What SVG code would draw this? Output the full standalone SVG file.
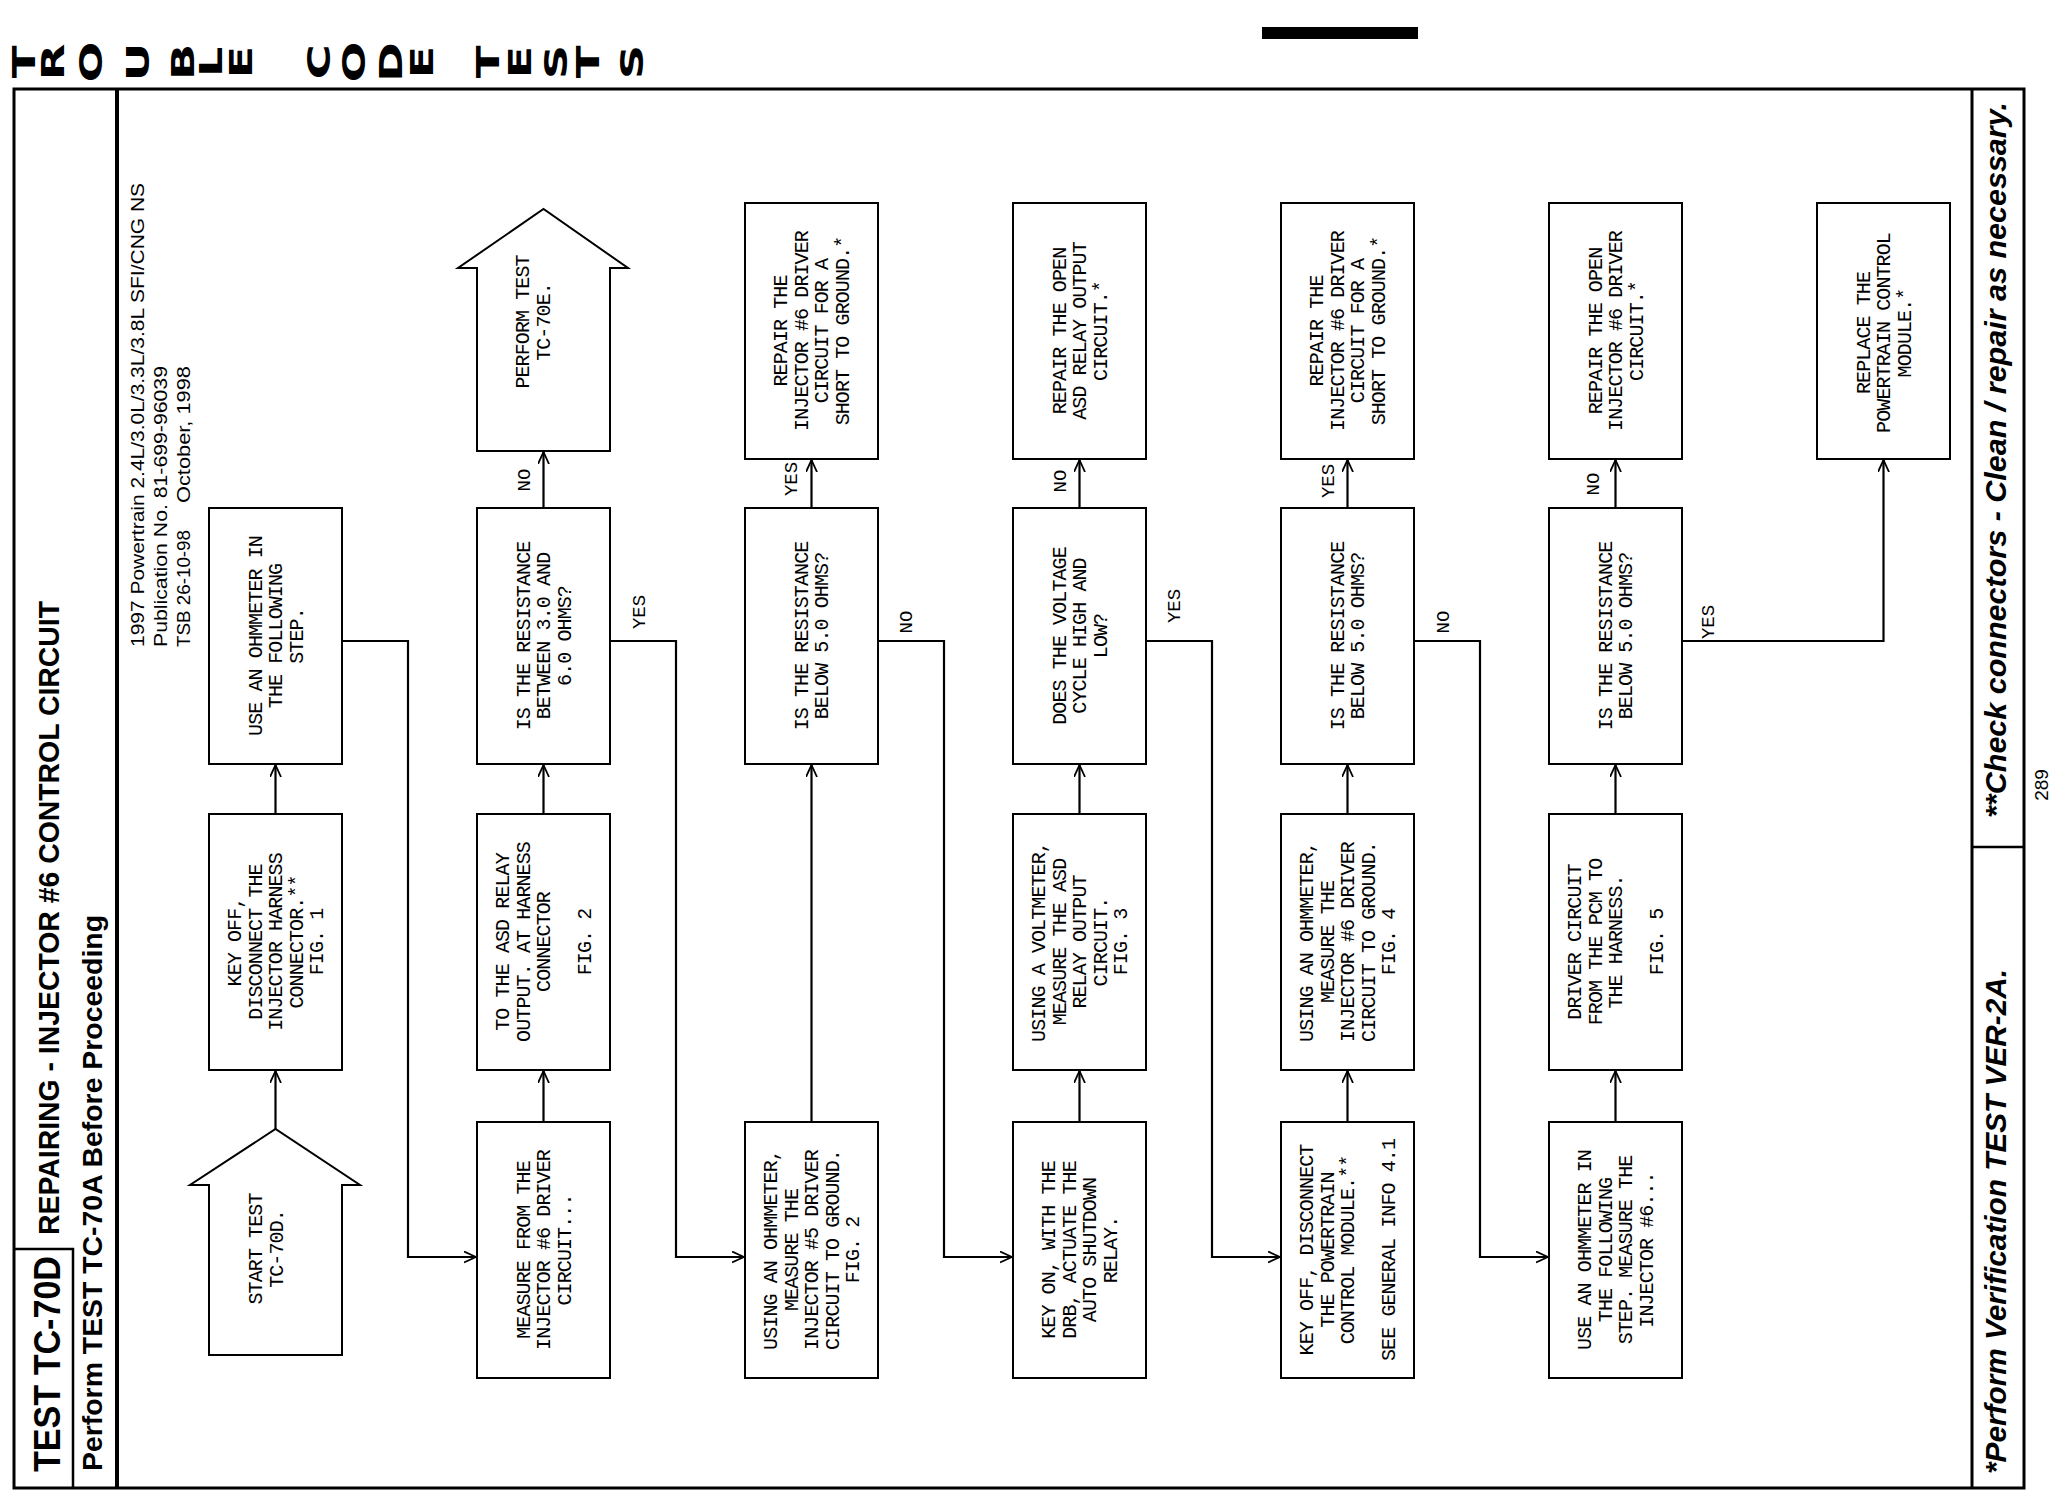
<svg xmlns="http://www.w3.org/2000/svg" width="2050" height="1504" viewBox="0 0 2050 1504">
<style>
.bx{fill:#fff;stroke:#000;stroke-width:2}
.t{font-family:"Liberation Mono","DejaVu Sans Mono",monospace;font-size:20px;letter-spacing:-0.9px;text-anchor:middle;fill:#000}
.lb{font-family:"Liberation Mono","DejaVu Sans Mono",monospace;font-size:19px;text-anchor:middle;fill:#000}
.c{fill:none;stroke:#000;stroke-width:2.2}
.fr{fill:none;stroke:#000;stroke-width:3}
.hd{font-family:"DejaVu Sans","Liberation Sans",sans-serif;font-weight:bold;font-size:32px;text-anchor:middle;fill:#000}
.ti{font-family:"Liberation Sans","Arial",sans-serif;font-weight:bold;fill:#000}
.pub{font-family:"Liberation Sans","Arial",sans-serif;font-size:19px;fill:#000}
</style>
<defs>
<marker id="ar" markerUnits="userSpaceOnUse" markerWidth="14" markerHeight="14" refX="12" refY="6" orient="auto">
<path d="M0,0.5 L12,6 L0,11.5" fill="none" stroke="#000" stroke-width="1.8"/>
</marker>
</defs>
<rect width="2050" height="1504" fill="#fff"/>

<g id="header">
<text class="hd" transform="translate(23,62) rotate(-90) scale(1.5,1)" y="11.7">T</text>
<text class="hd" transform="translate(52,62) rotate(-90) scale(1.5,1)" y="11.7">R</text>
<text class="hd" transform="translate(90,62) rotate(-90) scale(1.5,1)" y="11.7">O</text>
<text class="hd" transform="translate(137,62) rotate(-90) scale(1.5,1)" y="11.7">U</text>
<text class="hd" transform="translate(182,62) rotate(-90) scale(1.5,1)" y="11.7">B</text>
<text class="hd" transform="translate(210,62) rotate(-90) scale(1.5,1)" y="11.7">L</text>
<text class="hd" transform="translate(240,62) rotate(-90) scale(1.5,1)" y="11.7">E</text>
<text class="hd" transform="translate(318,62) rotate(-90) scale(1.5,1)" y="11.7">C</text>
<text class="hd" transform="translate(353,62) rotate(-90) scale(1.5,1)" y="11.7">O</text>
<text class="hd" transform="translate(390,62) rotate(-90) scale(1.5,1)" y="11.7">D</text>
<text class="hd" transform="translate(421,62) rotate(-90) scale(1.5,1)" y="11.7">E</text>
<text class="hd" transform="translate(487,62) rotate(-90) scale(1.5,1)" y="11.7">T</text>
<text class="hd" transform="translate(519,62) rotate(-90) scale(1.5,1)" y="11.7">E</text>
<text class="hd" transform="translate(555,62) rotate(-90) scale(1.5,1)" y="11.7">S</text>
<text class="hd" transform="translate(587,62) rotate(-90) scale(1.5,1)" y="11.7">T</text>
<text class="hd" transform="translate(631,62) rotate(-90) scale(1.5,1)" y="11.7">S</text>
<rect x="1262" y="27" width="156" height="12" fill="#000"/>
</g>

<g id="frame">
<rect class="fr" x="14" y="89" width="2010" height="1399"/>
<line x1="117" y1="89" x2="117" y2="1488" stroke="#000" stroke-width="4"/>
<polyline points="14,1249 73,1249 73,1488" fill="none" stroke="#000" stroke-width="2.5"/>
<line x1="1972" y1="89" x2="1972" y2="1488" stroke="#000" stroke-width="3"/>
<line x1="1972" y1="847" x2="2024" y2="847" stroke="#000" stroke-width="2.5"/>
</g>

<g id="titles">
<text class="ti" font-size="37" transform="translate(59.5,1472) rotate(-90)" textLength="216" lengthAdjust="spacingAndGlyphs">TEST TC-70D</text>
<text class="ti" font-size="30" transform="translate(59,1235) rotate(-90)" textLength="634" lengthAdjust="spacingAndGlyphs">REPAIRING - INJECTOR #6 CONTROL CIRCUIT</text>
<text class="ti" font-size="28" transform="translate(102,1471) rotate(-90)" textLength="556" lengthAdjust="spacingAndGlyphs">Perform TEST TC-70A Before Proceeding</text>
<text class="pub" transform="translate(144,647) rotate(-90)" textLength="464" lengthAdjust="spacingAndGlyphs">1997 Powertrain 2.4L/3.0L/3.3L/3.8L SFI/CNG NS</text>
<text class="pub" transform="translate(167,647) rotate(-90)" textLength="281" lengthAdjust="spacingAndGlyphs">Publication No. 81-699-96039</text>
<text class="pub" transform="translate(190,647) rotate(-90)" textLength="117" lengthAdjust="spacingAndGlyphs">TSB 26-10-98</text>
<text class="pub" transform="translate(190,503) rotate(-90)" textLength="137" lengthAdjust="spacingAndGlyphs">October, 1998</text>
<text class="ti" font-size="30" font-style="italic" transform="translate(2006,1474) rotate(-90)" textLength="505" lengthAdjust="spacingAndGlyphs">*Perform Verification TEST VER-2A.</text>
<text class="ti" font-size="30" font-style="italic" transform="translate(2006,818) rotate(-90)" textLength="716" lengthAdjust="spacingAndGlyphs">**Check connectors - Clean / repair as necessary.</text>
<text class="pub" font-size="22" transform="translate(2048,785) rotate(-90)" text-anchor="middle">289</text>
</g>

<g id="connectors">
<line class="c" x1="275.5" y1="1129" x2="275.5" y2="1071" marker-end="url(#ar)"/>
<line class="c" x1="275.5" y1="814" x2="275.5" y2="765" marker-end="url(#ar)"/>
<path class="c" d="M342,641 H408 V1257 H476" marker-end="url(#ar)"/>
<line class="c" x1="543.5" y1="1122" x2="543.5" y2="1071" marker-end="url(#ar)"/>
<line class="c" x1="543.5" y1="814" x2="543.5" y2="765" marker-end="url(#ar)"/>
<line class="c" x1="543.5" y1="508" x2="543.5" y2="452" marker-end="url(#ar)"/>
<path class="c" d="M610,641 H676 V1257 H744" marker-end="url(#ar)"/>
<line class="c" x1="811.5" y1="1122" x2="811.5" y2="765" marker-end="url(#ar)"/>
<line class="c" x1="811.5" y1="508" x2="811.5" y2="460" marker-end="url(#ar)"/>
<path class="c" d="M878,641 H944 V1257 H1012" marker-end="url(#ar)"/>
<line class="c" x1="1079.5" y1="1122" x2="1079.5" y2="1071" marker-end="url(#ar)"/>
<line class="c" x1="1079.5" y1="814" x2="1079.5" y2="765" marker-end="url(#ar)"/>
<line class="c" x1="1079.5" y1="508" x2="1079.5" y2="460" marker-end="url(#ar)"/>
<path class="c" d="M1146,641 H1212 V1257 H1280" marker-end="url(#ar)"/>
<line class="c" x1="1347.5" y1="1122" x2="1347.5" y2="1071" marker-end="url(#ar)"/>
<line class="c" x1="1347.5" y1="814" x2="1347.5" y2="765" marker-end="url(#ar)"/>
<line class="c" x1="1347.5" y1="508" x2="1347.5" y2="460" marker-end="url(#ar)"/>
<path class="c" d="M1414,641 H1480 V1257 H1548" marker-end="url(#ar)"/>
<line class="c" x1="1615.5" y1="1122" x2="1615.5" y2="1071" marker-end="url(#ar)"/>
<line class="c" x1="1615.5" y1="814" x2="1615.5" y2="765" marker-end="url(#ar)"/>
<line class="c" x1="1615.5" y1="508" x2="1615.5" y2="460" marker-end="url(#ar)"/>
<path class="c" d="M1682,641 H1883.5 V460" marker-end="url(#ar)"/>
<text class="lb" transform="translate(523,480) rotate(-90)" y="6.5">NO</text>
<text class="lb" transform="translate(638,612) rotate(-90)" y="6.5">YES</text>
<text class="lb" transform="translate(790,479) rotate(-90)" y="6.5">YES</text>
<text class="lb" transform="translate(905,622) rotate(-90)" y="6.5">NO</text>
<text class="lb" transform="translate(1059,481) rotate(-90)" y="6.5">NO</text>
<text class="lb" transform="translate(1173,606) rotate(-90)" y="6.5">YES</text>
<text class="lb" transform="translate(1327,481) rotate(-90)" y="6.5">YES</text>
<text class="lb" transform="translate(1442,622) rotate(-90)" y="6.5">NO</text>
<text class="lb" transform="translate(1592,484) rotate(-90)" y="6.5">NO</text>
<text class="lb" transform="translate(1707,622) rotate(-90)" y="6.5">YES</text>
</g>

<g id="n_start">
<polygon class="bx" points="209,1355 209,1185 190,1185 275.5,1129 360,1185 342,1185 342,1355"/>
<text class="t" transform="translate(266,1249) rotate(-90)"><tspan x="0" y="-3.75">START TEST</tspan><tspan x="0" y="16.75">TC-70D.</tspan></text>
</g>
<g id="n_keyoff1">
<rect class="bx" x="209" y="814" width="133" height="256"/>
<text class="t" transform="translate(275.5,942) rotate(-90)"><tspan x="0" y="-34.5">KEY OFF,</tspan><tspan x="0" y="-14">DISCONNECT THE</tspan><tspan x="0" y="6.5">INJECTOR HARNESS</tspan><tspan x="0" y="27">CONNECTOR.**</tspan><tspan x="0" y="47.5">FIG. 1</tspan></text>
</g>
<g id="n_use1">
<rect class="bx" x="209" y="508" width="133" height="256"/>
<text class="t" transform="translate(275.5,636) rotate(-90)"><tspan x="0" y="-14">USE AN OHMMETER IN</tspan><tspan x="0" y="6.5">THE FOLLOWING</tspan><tspan x="0" y="27">STEP.</tspan></text>
</g>
<g id="n_meas2">
<rect class="bx" x="477" y="1122" width="133" height="256"/>
<text class="t" transform="translate(543.5,1250) rotate(-90)"><tspan x="0" y="-14">MEASURE FROM THE</tspan><tspan x="0" y="6.5">INJECTOR #6 DRIVER</tspan><tspan x="0" y="27">CIRCUIT...</tspan></text>
</g>
<g id="n_to2">
<rect class="bx" x="477" y="814" width="133" height="256"/>
<text class="t" transform="translate(543.5,942) rotate(-90)"><tspan x="0" y="-34.5">TO THE ASD RELAY</tspan><tspan x="0" y="-14">OUTPUT. AT HARNESS</tspan><tspan x="0" y="6.5">CONNECTOR</tspan><tspan x="0" y="47.5">FIG. 2</tspan></text>
</g>
<g id="n_is2">
<rect class="bx" x="477" y="508" width="133" height="256"/>
<text class="t" transform="translate(543.5,636) rotate(-90)"><tspan x="0" y="-14">IS THE RESISTANCE</tspan><tspan x="0" y="6.5">BETWEEN 3.0 AND</tspan><tspan x="0" y="27">6.0 OHMS?</tspan></text>
</g>
<g id="n_perform">
<polygon class="bx" points="477,451 477,268 458,268 543.5,209 628,268 610,268 610,451"/>
<text class="t" transform="translate(533,322) rotate(-90)"><tspan x="0" y="-3.75">PERFORM TEST</tspan><tspan x="0" y="16.75">TC-70E.</tspan></text>
</g>
<g id="n_using3">
<rect class="bx" x="745" y="1122" width="133" height="256"/>
<text class="t" transform="translate(811.5,1250) rotate(-90)"><tspan x="0" y="-34.5">USING AN OHMMETER,</tspan><tspan x="0" y="-14">MEASURE THE</tspan><tspan x="0" y="6.5">INJECTOR #5 DRIVER</tspan><tspan x="0" y="27">CIRCUIT TO GROUND.</tspan><tspan x="0" y="47.5">FIG. 2</tspan></text>
</g>
<g id="n_is3">
<rect class="bx" x="745" y="508" width="133" height="256"/>
<text class="t" transform="translate(811.5,636) rotate(-90)"><tspan x="0" y="-3.75">IS THE RESISTANCE</tspan><tspan x="0" y="16.75">BELOW 5.0 OHMS?</tspan></text>
</g>
<g id="n_rep3">
<rect class="bx" x="745" y="203" width="133" height="256"/>
<text class="t" transform="translate(811.5,331) rotate(-90)"><tspan x="0" y="-24.25">REPAIR THE</tspan><tspan x="0" y="-3.75">INJECTOR #6 DRIVER</tspan><tspan x="0" y="16.75">CIRCUIT FOR A</tspan><tspan x="0" y="37.25">SHORT TO GROUND.*</tspan></text>
</g>
<g id="n_keyon4">
<rect class="bx" x="1013" y="1122" width="133" height="256"/>
<text class="t" transform="translate(1079.5,1250) rotate(-90)"><tspan x="0" y="-24.25">KEY ON, WITH THE</tspan><tspan x="0" y="-3.75">DRB, ACTUATE THE</tspan><tspan x="0" y="16.75">AUTO SHUTDOWN</tspan><tspan x="0" y="37.25">RELAY.</tspan></text>
</g>
<g id="n_volt4">
<rect class="bx" x="1013" y="814" width="133" height="256"/>
<text class="t" transform="translate(1079.5,942) rotate(-90)"><tspan x="0" y="-34.5">USING A VOLTMETER,</tspan><tspan x="0" y="-14">MEASURE THE ASD</tspan><tspan x="0" y="6.5">RELAY OUTPUT</tspan><tspan x="0" y="27">CIRCUIT.</tspan><tspan x="0" y="47.5">FIG. 3</tspan></text>
</g>
<g id="n_does4">
<rect class="bx" x="1013" y="508" width="133" height="256"/>
<text class="t" transform="translate(1079.5,636) rotate(-90)"><tspan x="0" y="-14">DOES THE VOLTAGE</tspan><tspan x="0" y="6.5">CYCLE HIGH AND</tspan><tspan x="0" y="27">LOW?</tspan></text>
</g>
<g id="n_rep4">
<rect class="bx" x="1013" y="203" width="133" height="256"/>
<text class="t" transform="translate(1079.5,331) rotate(-90)"><tspan x="0" y="-14">REPAIR THE OPEN</tspan><tspan x="0" y="6.5">ASD RELAY OUTPUT</tspan><tspan x="0" y="27">CIRCUIT.*</tspan></text>
</g>
<g id="n_keyoff5">
<rect class="bx" x="1281" y="1122" width="133" height="256"/>
<text class="t" transform="translate(1347.5,1250) rotate(-90)"><tspan x="0" y="-34.5">KEY OFF, DISCONNECT</tspan><tspan x="0" y="-14">THE POWERTRAIN</tspan><tspan x="0" y="6.5">CONTROL MODULE.**</tspan><tspan x="0" y="47.5">SEE GENERAL INFO 4.1</tspan></text>
</g>
<g id="n_using5">
<rect class="bx" x="1281" y="814" width="133" height="256"/>
<text class="t" transform="translate(1347.5,942) rotate(-90)"><tspan x="0" y="-34.5">USING AN OHMMETER,</tspan><tspan x="0" y="-14">MEASURE THE</tspan><tspan x="0" y="6.5">INJECTOR #6 DRIVER</tspan><tspan x="0" y="27">CIRCUIT TO GROUND.</tspan><tspan x="0" y="47.5">FIG. 4</tspan></text>
</g>
<g id="n_is5">
<rect class="bx" x="1281" y="508" width="133" height="256"/>
<text class="t" transform="translate(1347.5,636) rotate(-90)"><tspan x="0" y="-3.75">IS THE RESISTANCE</tspan><tspan x="0" y="16.75">BELOW 5.0 OHMS?</tspan></text>
</g>
<g id="n_rep5">
<rect class="bx" x="1281" y="203" width="133" height="256"/>
<text class="t" transform="translate(1347.5,331) rotate(-90)"><tspan x="0" y="-24.25">REPAIR THE</tspan><tspan x="0" y="-3.75">INJECTOR #6 DRIVER</tspan><tspan x="0" y="16.75">CIRCUIT FOR A</tspan><tspan x="0" y="37.25">SHORT TO GROUND.*</tspan></text>
</g>
<g id="n_use6">
<rect class="bx" x="1549" y="1122" width="133" height="256"/>
<text class="t" transform="translate(1615.5,1250) rotate(-90)"><tspan x="0" y="-24.25">USE AN OHMMETER IN</tspan><tspan x="0" y="-3.75">THE FOLLOWING</tspan><tspan x="0" y="16.75">STEP. MEASURE THE</tspan><tspan x="0" y="37.25">INJECTOR #6...</tspan></text>
</g>
<g id="n_driver6">
<rect class="bx" x="1549" y="814" width="133" height="256"/>
<text class="t" transform="translate(1615.5,942) rotate(-90)"><tspan x="0" y="-34.5">DRIVER CIRCUIT</tspan><tspan x="0" y="-14">FROM THE PCM TO</tspan><tspan x="0" y="6.5">THE HARNESS.</tspan><tspan x="0" y="47.5">FIG. 5</tspan></text>
</g>
<g id="n_is6">
<rect class="bx" x="1549" y="508" width="133" height="256"/>
<text class="t" transform="translate(1615.5,636) rotate(-90)"><tspan x="0" y="-3.75">IS THE RESISTANCE</tspan><tspan x="0" y="16.75">BELOW 5.0 OHMS?</tspan></text>
</g>
<g id="n_rep6">
<rect class="bx" x="1549" y="203" width="133" height="256"/>
<text class="t" transform="translate(1615.5,331) rotate(-90)"><tspan x="0" y="-14">REPAIR THE OPEN</tspan><tspan x="0" y="6.5">INJECTOR #6 DRIVER</tspan><tspan x="0" y="27">CIRCUIT.*</tspan></text>
</g>
<g id="n_rep7">
<rect class="bx" x="1817" y="203" width="133" height="256"/>
<text class="t" transform="translate(1883.5,333) rotate(-90)"><tspan x="0" y="-14">REPLACE THE</tspan><tspan x="0" y="6.5">POWERTRAIN CONTROL</tspan><tspan x="0" y="27">MODULE.*</tspan></text>
</g>
</svg>
